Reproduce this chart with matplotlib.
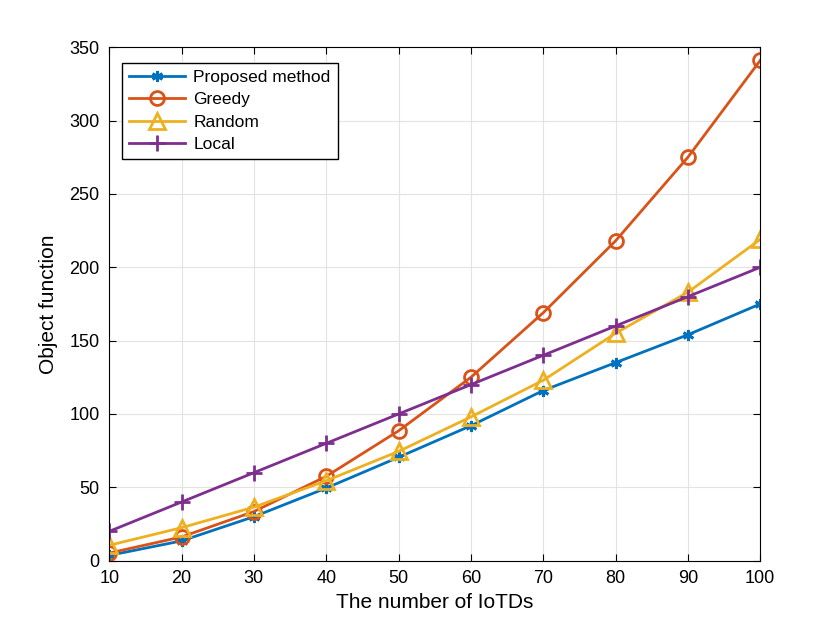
import matplotlib
matplotlib.use("Agg")
import matplotlib.pyplot as plt

plt.rcParams['font.family'] = ['Liberation Sans', 'DejaVu Sans']

# number of IoTDs
n_iotds = [10, 20, 30, 40, 50, 60, 70, 80, 90, 100]

# object function values
proposed = [3.6, 13.5, 30, 49.5, 70.5, 92, 116, 135, 154, 175]
greedy = [5.2, 16.2, 33.5, 57.5, 88.5, 125, 169, 218, 275, 341]
random_sel = [10.5, 22.5, 36.5, 54.5, 74.5, 98, 123, 155, 183, 219]
local = [20, 40, 60, 80, 100, 120, 140, 160, 180, 200]

fig = plt.figure(figsize=(8.4, 6.3), dpi=100)
ax = fig.add_axes([0.13, 0.11, 0.775, 0.815])

ax.plot(n_iotds, proposed, color='#0072BD', lw=2, marker=(6, 2, 0), ms=8, mew=2, label='Proposed method')
ax.plot(n_iotds, greedy, color='#D95319', lw=2, marker='o', ms=10, mfc='none', mew=2, label='Greedy')
ax.plot(n_iotds, random_sel, color='#EDB120', lw=2, marker='^', ms=11, mfc='none', mew=2, label='Random')
ax.plot(n_iotds, local, color='#7E2F8E', lw=2, marker='+', ms=11, mew=2, label='Local')

ax.set_xlim(10, 100)
ax.set_ylim(0, 350)
ax.set_xticks(range(10, 101, 10))
ax.set_yticks(range(0, 351, 50))
ax.grid(True, color='#e3e3e3', lw=0.8)
ax.tick_params(direction='in', labelsize=13, length=5, top=True, right=True, pad=7)
for s in ax.spines.values():
    s.set_linewidth(0.8)

ax.set_xlabel('The number of IoTDs', fontsize=15, labelpad=4)
ax.set_ylabel('Object function', fontsize=15, labelpad=8)

ax.legend(loc='upper left', bbox_to_anchor=(0.02, 0.97), fontsize=12.5, fancybox=False,
          edgecolor='black', framealpha=1, borderaxespad=0, handlelength=3.2,
          labelspacing=0.42, borderpad=0.4, handletextpad=0.5)

fig.savefig('out.png')
